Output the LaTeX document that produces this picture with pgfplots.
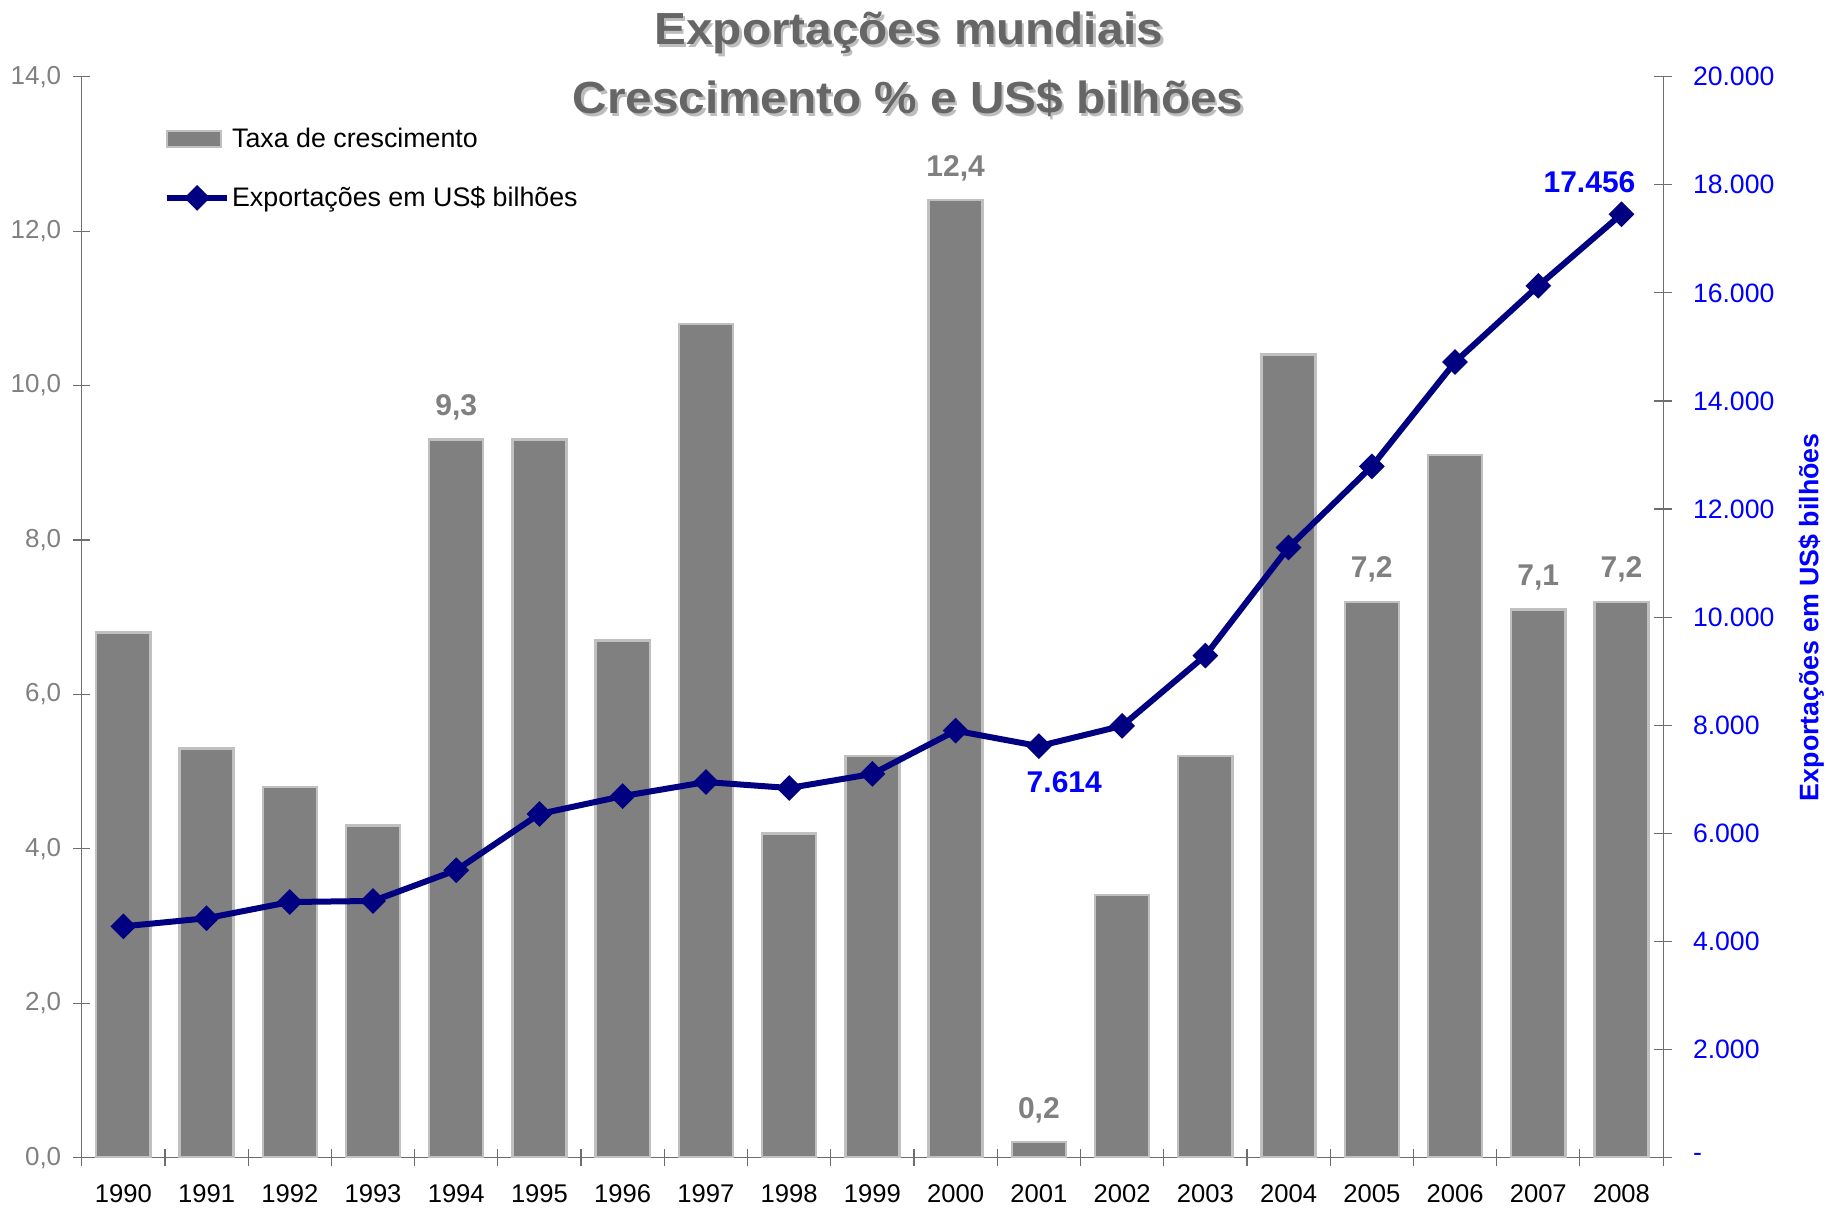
\documentclass[border=0pt]{standalone}
\usepackage{fontspec}
\setmainfont{Liberation Sans}
\usepackage{pgfplots}
\pgfplotsset{compat=1.18}
\definecolor{barfill}{HTML}{808080}
\definecolor{baredge}{HTML}{C0C0C0}
\definecolor{navy}{HTML}{000080}
\definecolor{titlegray}{HTML}{666666}
\definecolor{shadowgray}{HTML}{BDBDBD}
\definecolor{axisgray}{HTML}{6E6E6E}
\begin{document}
\begin{tikzpicture}
\path[use as bounding box] (0,0) rectangle (921pt,604.5pt);
\begin{axis}[
  at={(40.85pt,25.65pt)}, anchor=south west,
  scale only axis, width=790.7pt, height=540.5pt,
  xmin=-0.5, xmax=18.5, ymin=0, ymax=14,
  axis x line*=bottom, axis y line*=left,
  axis line style={axisgray, line width=0.6pt, -},
  tick align=center,
  tick style={axisgray, line width=0.6pt},
  major tick length=8.7pt,
  xtick={-0.5,0.5,1.5,2.5,3.5,4.5,5.5,6.5,7.5,8.5,9.5,10.5,11.5,12.5,13.5,14.5,15.5,16.5,17.5,18.5},
  xticklabels={},
  extra x ticks={0,1,2,3,4,5,6,7,8,9,10,11,12,13,14,15,16,17,18},
  extra x tick labels={1990,1991,1992,1993,1994,1995,1996,1997,1998,1999,2000,2001,2002,2003,2004,2005,2006,2007,2008},
  extra x tick style={major tick length=0pt},
  xticklabel style={anchor=north, inner sep=0pt, yshift=-13.5pt, font=\fontsize{12.8}{15}\selectfont, text=black},
  ytick={0,2,...,14},
  yticklabels={{0,0},{2,0},{4,0},{6,0},{8,0},{10,0},{12,0},{14,0}},
  yticklabel style={anchor=east, inner sep=0pt, xshift=-5.7pt, font=\fontsize{13}{15}\selectfont, text=barfill},
  legend style={at={(axis description cs:0,1)}, anchor=north west, xshift=41pt, yshift=-23.5pt,
    draw=none, fill=none, inner sep=0pt, row sep=14pt,
    font=\fontsize{13.4}{16}\selectfont, nodes={inner xsep=1pt, inner ysep=2pt}},
  legend cell align=left,
]
\addplot[ybar, bar width=0.65, bar shift=0pt, fill=barfill, draw=baredge, line width=1.2pt,
  legend image code/.code={\draw[fill=barfill, draw=baredge, line width=1.2pt] (0pt,-4pt) rectangle (27pt,4pt);}]
  coordinates {(0,6.8) (1,5.3) (2,4.8) (3,4.3) (4,9.3) (5,9.3) (6,6.7) (7,10.8) (8,4.2) (9,5.2)
    (10,12.4) (11,0.2) (12,3.4) (13,5.2) (14,10.4) (15,7.2) (16,9.1) (17,7.1) (18,7.2)};
\addlegendentry{Taxa de crescimento}
\addlegendimage{navy, line width=3pt,
  legend image code/.code={\draw[navy, line width=3pt, mark=square*, mark size=4.3pt, mark options={rotate=45, fill=navy, line width=0.5pt}, mark repeat=2, mark phase=2] plot coordinates {(0pt,0pt) (15pt,0pt) (30pt,0pt)};}}
\addlegendentry{Exportações em US\$ bilhões}
\addplot[forget plot, draw=none, mark=none, nodes near coords, point meta=explicit symbolic,
  nodes near coords style={anchor=base, yshift=11.9pt, inner sep=0pt, font=\bfseries\fontsize{15}{18}\selectfont, text=barfill}]
  coordinates {(4,9.3) [9,3] (10,12.4) [12,4] (11,0.2) [0,2] (15,7.2) [7,2] (17,7.1) [7,1] (18,7.2) [7,2]};
\end{axis}
\begin{axis}[
  at={(40.85pt,25.65pt)}, anchor=south west,
  scale only axis, width=790.7pt, height=540.5pt,
  xmin=-0.5, xmax=18.5, ymin=0, ymax=20000,
  clip=false,
  axis x line=none, axis y line*=right,
  axis line style={axisgray, line width=0.6pt, -},
  tick align=center,
  tick style={axisgray, line width=0.6pt},
  major tick length=8.7pt,
  scaled y ticks=false,
  ytick={0,2000,...,20000},
  yticklabels={-,2.000,4.000,6.000,8.000,10.000,12.000,14.000,16.000,18.000,20.000},
  yticklabel style={anchor=west, inner sep=0pt, xshift=10.4pt, font=\fontsize{13.3}{15}\selectfont, text=blue},
  ylabel={Exportações em US\$ bilhões},
  ylabel style={at={(axis description cs:1,0.5)}, anchor=north, inner sep=0pt, yshift=-67.5pt,
    font=\bfseries\fontsize{13.4}{16}\selectfont, text=blue},
]
\addplot[navy, line width=3pt, mark=square*, mark size=4.3pt, mark options={rotate=45, fill=navy, line width=0.5pt}]
  coordinates {(0,4280) (1,4430) (2,4730) (3,4750) (4,5320) (5,6360) (6,6690) (7,6950) (8,6840) (9,7100)
    (10,7900) (11,7614) (12,7990) (13,9290) (14,11290) (15,12790) (16,14720) (17,16130) (18,17456)};
\addplot[draw=none, mark=none, nodes near coords, point meta=explicit symbolic,
  nodes near coords style={anchor=base, yshift=-23pt, xshift=12.7pt, inner sep=0pt, font=\bfseries\fontsize{15}{18}\selectfont, text=blue}]
  coordinates {(11,7614) [7.614]};
\addplot[draw=none, mark=none, nodes near coords, point meta=explicit symbolic,
  nodes near coords style={anchor=base, yshift=10.8pt, xshift=-16pt, inner sep=0pt, font=\bfseries\fontsize{15}{18}\selectfont, text=blue}]
  coordinates {(18,17456) [17.456]};
\end{axis}
\node[anchor=base, inner sep=0pt, text=shadowgray, font=\bfseries\fontsize{22.5}{26}\selectfont] at (455.7pt,580.8pt) {\scalebox{1.06}[1]{Exportações mundiais}};
\node[anchor=base, inner sep=0pt, text=titlegray, font=\bfseries\fontsize{22.5}{26}\selectfont] at (454.5pt,582pt) {\scalebox{1.06}[1]{Exportações mundiais}};
\node[anchor=base, inner sep=0pt, text=shadowgray, font=\bfseries\fontsize{22.5}{26}\selectfont] at (455.2pt,546.3pt) {\scalebox{1.06}[1]{Crescimento \% e US\$ bilhões}};
\node[anchor=base, inner sep=0pt, text=titlegray, font=\bfseries\fontsize{22.5}{26}\selectfont] at (454pt,547.5pt) {\scalebox{1.06}[1]{Crescimento \% e US\$ bilhões}};
\end{tikzpicture}
\end{document}
